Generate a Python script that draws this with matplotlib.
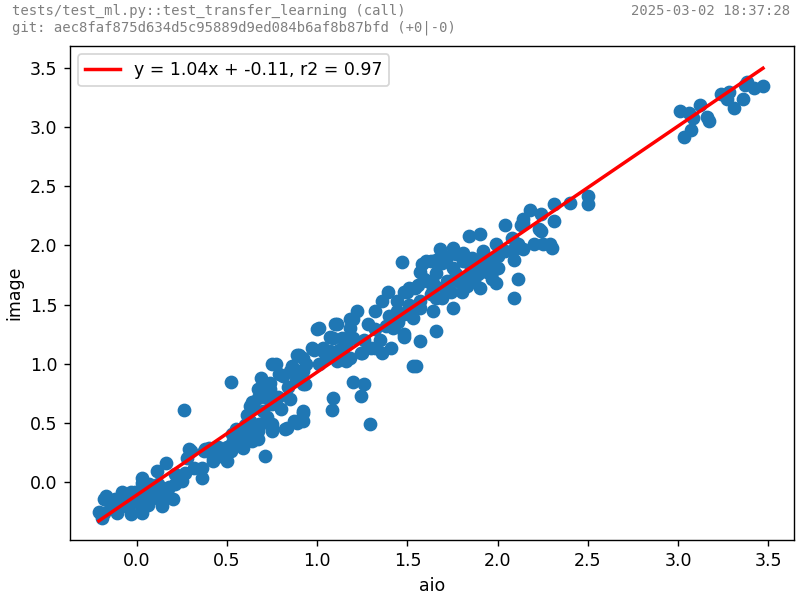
import numpy as np
import matplotlib
matplotlib.use("Agg")
import matplotlib.pyplot as plt

# header texts
test_name = "tests/test_ml.py::test_transfer_learning (call)"
git_info = "git: aec8faf875d634d5c95889d9ed084b6af8b87bfd (+0|-0)"
stamp = "2025-03-02 18:37:28"

# fit result shown in legend
slope = 1.04
intercept = -0.11
r2 = 0.97

# aio vs image values
aio = [
    3.01, 3.06, 3.08, 3.07, 3.03, 3.12, 3.16, 3.17, 3.24, 3.28, 3.27, 3.31, 3.36, 3.37, 3.42, 3.47, 3.38,
    2.40, 2.50, 2.50, 2.31, 2.31, 2.23, 2.18, 2.24, 2.14, 2.13, 2.04, 1.90, 1.84, 2.08, 1.99, 2.11,
    2.20, 2.25, 2.29, 2.30, 2.09, 2.09, 2.14, 2.04, 2.00, 1.92, 1.91, 1.97, 1.99, 2.11, 2.09, 1.90,
    1.80, 1.75, 1.85, 1.77, 1.81, 1.75, 1.76, 1.47, 1.58, 1.66, 1.68, 1.75, 2.14, 2.24,
    1.64, 1.66, 1.57, 1.55, 1.53, 1.48, 1.41, 1.36, 1.32, 1.42, 1.39, 1.48, 1.32, 1.22, 1.18, 1.11,
    1.00, 1.07, 1.16, 1.18, 1.25, 1.20, 1.26, 1.24, 1.09, 1.08, 1.29, 0.97, 0.89, 0.86, 0.77, 0.69,
    0.74, 0.81, 0.93, 0.85, 0.92, 0.87, 0.82, 0.75, 0.67, 0.65, 0.67,
    1.63, 1.50, 1.56, 1.61, 1.64, 1.66, 1.36, 1.44, 1.51, 1.57, 1.53, 1.48, 1.20, 1.18, 1.28, 1.32,
    1.48, 1.30, 1.24, 1.16, 1.10, 1.01, 1.09, 1.14, 1.07, 1.16, 1.11, 1.03, 0.98, 0.92, 1.01, 0.94,
    0.92, 0.92, 0.92, 0.92,
    1.81, 1.86, 1.96, 2.00, 1.97, 1.51, 1.59, 1.66, 1.72, 1.77, 1.85, 1.63, 1.69, 1.44, 1.51, 1.57,
    1.74, 1.60, 1.57, 1.64, 1.81, 1.89, 1.94, 1.90, 1.54, 2.12, 1.97,
    0.52, 0.75, 0.90, 1.03, 0.79, 0.85, 0.90, 0.68, 0.74, 0.67, 0.72, 0.75, 0.63, 0.61, 0.80, 0.89,
    0.83, 0.75, 0.68, 0.63, 0.61, 0.57, 0.64, 0.53, 0.50, 0.45, 0.40, 0.37, 0.71, 0.52, 0.46, 0.42,
    -0.19, -0.21, -0.18, -0.18, -0.12, -0.14, -0.11, -0.07, -0.04, -0.01, 0.01, 0.03, 0.06, 0.03,
    0.07, 0.12, 0.11, 0.14, 0.14, 0.20, 0.17, 0.11, 0.16, 0.21, 0.25, 0.21, 0.27, 0.29, 0.28, 0.32,
    0.36, 0.36, 0.38, 0.43, 0.47, 0.50, -0.08, -0.03, 0.03, 0.26, 0.30, 0.14, 0.03, -0.03, -0.11,
    -0.17, 0.42, 0.64, 0.68, 0.75, 0.90, 0.53, 0.61, 0.67, 0.59,
    0.05, 0.08, 0.00, -0.05, 0.10, 0.18, 0.23, -0.15,
    0.70, 0.78, 0.84, 0.88, 0.60, 0.55, 0.72,
    1.05, 1.12, 1.20, 1.26, 1.35, 1.40, 1.45, 1.38,
    1.70, 1.78, 1.83, 1.87, 1.93, 1.69, 1.72,
]
image = [
    3.14, 3.12, 3.08, 2.98, 2.92, 3.19, 3.09, 3.05, 3.28, 3.30, 3.24, 3.16, 3.24, 3.36, 3.33, 3.35, 3.38,
    2.36, 2.42, 2.35, 2.35, 2.21, 2.14, 2.30, 2.27, 2.22, 2.17, 2.17, 2.10, 2.08, 2.06, 2.01, 2.01,
    2.01, 2.01, 2.01, 1.98, 1.97, 1.88, 1.97, 1.95, 1.91, 1.95, 1.87, 1.78, 1.68, 1.72, 1.56, 1.64,
    1.61, 1.47, 1.81, 1.93, 1.87, 1.81, 1.72, 1.86, 1.84, 1.88, 1.97, 1.98, 2.19, 2.12,
    1.45, 1.28, 1.19, 0.98, 0.98, 1.23, 1.13, 1.09, 1.13, 1.30, 1.61, 1.61, 1.45, 1.45, 1.38, 1.34,
    1.29, 1.23, 1.19, 1.05, 1.09, 0.85, 0.83, 0.73, 0.71, 0.61, 0.49, 1.13, 1.07, 0.98, 1.00, 0.88,
    0.79, 0.90, 0.83, 0.70, 0.60, 0.52, 0.45, 0.46, 0.43, 0.63, 0.79,
    1.87, 1.61, 1.67, 1.70, 1.63, 1.56, 1.53, 1.53, 1.50, 1.47, 1.39, 1.42, 1.38, 1.30, 1.34, 1.29,
    1.25, 1.13, 1.09, 1.17, 1.34, 1.30, 1.22, 1.22, 1.11, 1.02, 1.02, 1.11, 1.12, 1.05, 1.00, 1.00,
    0.94, 0.83, 0.58, 0.52,
    1.94, 1.89, 1.88, 1.81, 1.72, 1.64, 1.72, 1.77, 1.70, 1.76, 1.78, 1.59, 1.56, 1.45, 1.42, 1.53,
    1.61, 1.87, 1.78, 1.68, 1.72, 1.76, 1.78, 1.85, 1.64, 1.99, 1.84,
    0.85, 1.00, 1.07, 1.13, 0.91, 0.94, 0.94, 0.79, 0.84, 0.71, 0.71, 0.66, 0.64, 0.57, 0.62, 0.50,
    0.46, 0.43, 0.47, 0.52, 0.43, 0.37, 0.35, 0.33, 0.30, 0.30, 0.29, 0.26, 0.22, 0.26, 0.22, 0.18,
    -0.30, -0.25, -0.26, -0.14, -0.14, -0.22, -0.26, -0.19, -0.12, -0.08, -0.18, -0.23, -0.19, -0.01,
    -0.02, -0.02, -0.08, -0.16, -0.20, -0.14, -0.09, 0.09, 0.16, 0.07, 0.01, -0.02, 0.08, 0.28, 0.20, 0.12,
    0.03, 0.12, 0.28, 0.29, 0.24, 0.18, -0.08, -0.27, -0.26, 0.61, 0.26, -0.05, 0.03, -0.08, -0.23,
    -0.12, 0.20, 0.68, 0.49, 0.49, 0.52, 0.41, 0.39, 0.36, 0.29,
    -0.10, -0.14, -0.15, -0.21, -0.12, -0.04, 0.04, -0.18,
    0.60, 0.72, 0.80, 0.86, 0.48, 0.45, 0.55,
    1.05, 1.12, 1.22, 1.20, 1.20, 1.40, 1.35, 1.32,
    1.65, 1.70, 1.66, 1.70, 1.82, 1.85, 1.90,
]

x = np.array(aio)
y = np.array(image)
xfit = np.array([x.min(), x.max()])
yfit = slope * xfit + intercept

fig, ax = plt.subplots(figsize=(6.4, 4.8), dpi=125)
fig.subplots_adjust(left=0.087, right=0.993, bottom=0.1, top=0.924)
ax.scatter(x, y, s=48, color="#1f77b4")
ax.plot(xfit, yfit, color="red", lw=2, label=f"y = {slope:.2f}x + {intercept:.2f}, r2 = {r2:.2f}")
ax.set_xlim(-0.372, 3.644)
ax.set_ylim(-0.49, 3.69)
ax.set_xlabel("aio")
ax.set_ylabel("image")
ax.legend(loc="upper left")

fig.text(0.015, 0.982, test_name, family="DejaVu Sans Mono", fontsize=8, color="gray", va="center")
fig.text(0.015, 0.953, git_info, family="DejaVu Sans Mono", fontsize=8, color="gray", va="center")
fig.text(0.988, 0.982, stamp, family="DejaVu Sans Mono", fontsize=8, color="gray", va="center", ha="right")

fig.savefig("out.png", dpi=125)
